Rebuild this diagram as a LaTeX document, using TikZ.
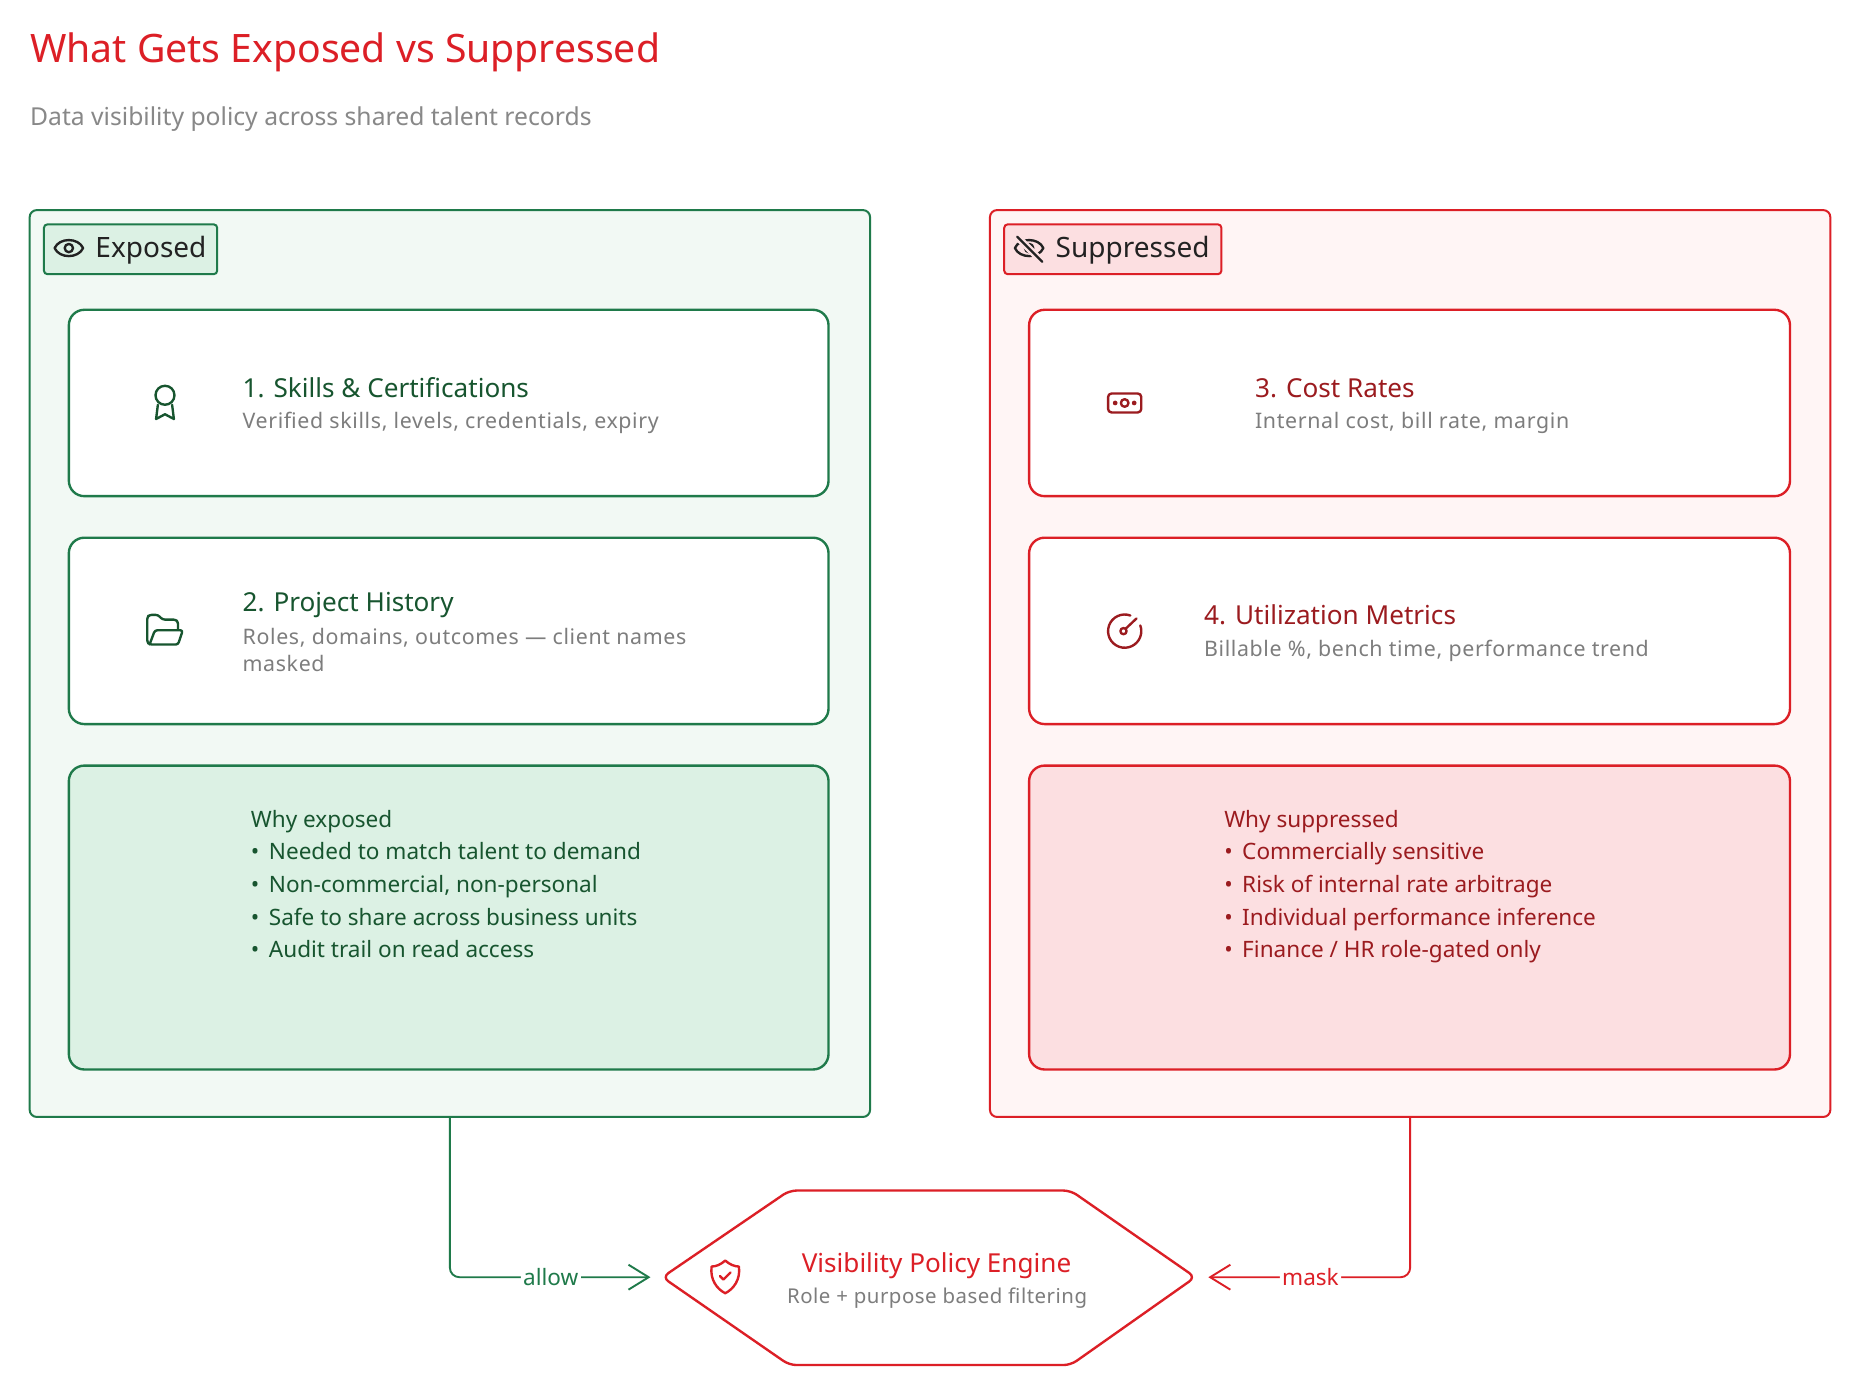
\documentclass[tikz,border=0pt]{standalone}
\usepackage{fontspec}
\setmainfont{Noto Sans}
\usetikzlibrary{arrows.meta,fit,calc}
\definecolor{redA}{HTML}{DC1F26}
\definecolor{redD}{HTML}{9B1B1F}
\definecolor{redF}{HTML}{FFF5F5}
\definecolor{redB}{HTML}{FCDFE1}
\definecolor{grnA}{HTML}{1F7A4A}
\definecolor{grnD}{HTML}{17552F}
\definecolor{grnF}{HTML}{F2F9F4}
\definecolor{grnB}{HTML}{DCF1E4}
\definecolor{grayT}{HTML}{7D7D7D}
\definecolor{grayS}{HTML}{888888}
\definecolor{inkT}{HTML}{222222}
\begin{document}
\begin{tikzpicture}[x=0.5pt,y=-0.5pt,
  txt/.style={inner sep=0pt, anchor=base west},
  outerbox/.style={draw, line width=0.85pt, rounded corners=3pt, inner sep=0pt},
  badge/.style={draw, line width=0.85pt, rounded corners=1.5pt, inner sep=0pt},
  card/.style={draw, line width=1pt, rounded corners=6.5pt, inner sep=0pt},
  icon/.style={line width=1pt, line cap=round, line join=round},
  ctitle/.style={txt, font=\fontsize{11pt}{13pt}\selectfont},
  cdesc/.style={txt, font=\fontsize{9pt}{11pt}\selectfont\addfontfeature{LetterSpace=3}, text=grayT},
  whyt/.style={txt, font=\fontsize{9.5pt}{12pt}\selectfont},
  conn/.style={line width=0.8pt, rounded corners=4pt, -{Straight Barb[length=8.5pt,width=10.5pt]}},
  lab/.style={fill=white, inner sep=1pt, font=\fontsize{9.5pt}{12pt}\selectfont}
]
\useasboundingbox (0,0) rectangle (1567,1176);
\fill[white] (0,0) rectangle (1567,1176);

% titles
\node[txt, text=redA, font=\fontsize{16.5pt}{20pt}\selectfont] (title) at (25,53) {What Gets Exposed vs Suppressed};
\node[txt, text=grayS, font=\fontsize{10.4pt}{12pt}\selectfont] (subtitle) at (25,106) {Data visibility policy across shared talent records};

% outer boxes
\node[outerbox, draw=grnA, fill=grnF, fit={(25,177) (733,941)}] (expbox) {};
\node[outerbox, draw=redA, fill=redF, fit={(834,177) (1542,941)}] (supbox) {};

% badges
\node[badge, draw=grnA, fill=grnB, fit={(37,189) (183,231)}] (expbadge) {};
\node[badge, draw=redA, fill=redB, fit={(846,189) (1029,231)}] (supbadge) {};
\node[txt, text=inkT, font=\fontsize{11.8pt}{13pt}\selectfont] (expbadget) at (80,217) {Exposed};
\node[txt, text=inkT, font=\fontsize{11.8pt}{13pt}\selectfont] (supbadget) at (889,217) {Suppressed};
% eye icon
\draw[icon, inkT] (46,209) .. controls (50,200) and (66,200) .. (70,209) .. controls (66,218) and (50,218) .. (46,209) -- cycle;
\draw[icon, inkT] (58,209) circle[radius=1.75pt];
% eye-off icon
\draw[icon, inkT] (855,209) .. controls (859,200) and (875,200) .. (879,209) .. controls (875,218) and (859,218) .. (855,209) -- cycle;
\draw[icon, inkT] (867,209) circle[radius=1.75pt];
\draw[line width=3pt, redB, line cap=round] (857,199.5) -- (878,220.5);
\draw[icon, inkT] (857,199.5) -- (878,220.5);

% cards left
\node[card, draw=grnA, fill=white, fit={(58,261) (698,418)}] (c1) {};
\node[card, draw=grnA, fill=white, fit={(58,453) (698,610)}] (c2) {};
\node[card, draw=grnA, fill=grnB, fit={(58,645) (698,901)}] (whyE) {};
% cards right
\node[card, draw=redA, fill=white, fit={(867,261) (1508,418)}] (c3) {};
\node[card, draw=redA, fill=white, fit={(867,453) (1508,610)}] (c4) {};
\node[card, draw=redA, fill=redB, fit={(867,645) (1508,901)}] (whyS) {};

% card texts
\node[ctitle, text=grnD] (c1t) at (204,335) {1. Skills \& Certifications};
\node[cdesc] (c1d) at (204,361) {Verified skills, levels, credentials, expiry};
\node[ctitle, text=grnD] (c2t) at (204,515) {2. Project History};
\node[cdesc] (c2d) at (204,543) {Roles, domains, outcomes — client names};
\node[cdesc] (c2d2) at (204,566) {masked};
\node[ctitle, text=redD] (c3t) at (1057,335) {3. Cost Rates};
\node[cdesc] (c3d) at (1057,361) {Internal cost, bill rate, margin};
\node[ctitle, text=redD] (c4t) at (1014,526) {4. Utilization Metrics};
\node[cdesc] (c4d) at (1014,553) {Billable \%, bench time, performance trend};

% why exposed
\node[whyt, text=grnD] (whyEt) at (211,697) {Why exposed};
\foreach \t [count=\i] in {Needed to match talent to demand, {Non-commercial, non-personal}, Safe to share across business units, Audit trail on read access}
  \node[whyt, text=grnD] (whyE\i) at (211,{697+27.5*\i}) {•\hspace{4pt}\t};
% why suppressed
\node[whyt, text=redD] (whySt) at (1031,697) {Why suppressed};
\foreach \t [count=\i] in {Commercially sensitive, Risk of internal rate arbitrage, Individual performance inference, Finance / HR role-gated only}
  \node[whyt, text=redD] (whyS\i) at (1031,{697+27.5*\i}) {•\hspace{4pt}\t};

% award icon
\draw[icon, grnD] (139,333) circle[radius=4pt];
\draw[icon, grnD] (133,341) -- (131.5,353) -- (139,349) -- (146.5,353) -- (145,341);
% folder-open icon
\draw[icon, grnD, rounded corners=1pt] (150,530.5) -- (150,524) -- (148,522) -- (137,522) -- (133,518) -- (126,518) -- (124,520) -- (124,541) -- (126,543) -- (150,543) -- (154,531) -- (130.5,531) -- (126,543);
% cash icon
\draw[icon, redD, rounded corners=1.5pt] (933.5,331.5) rectangle (961.5,347.5);
\draw[icon, redD] (947.5,339.5) circle[radius=1.6pt];
\fill[redD] (939.5,339.5) circle[radius=1pt] (955.5,339.5) circle[radius=1pt];
% gauge icon
\draw[icon, redD] ($(947.5,531.7)+(-70:14)$) arc[start angle=-70, end angle=-380, radius=14];
\draw[icon, redD] (946.5,531.7) circle[radius=1.3pt];
\draw[icon, redD] (948.6,529.4) -- (957.5,521);

% hexagon
\coordinate (hexL) at (558,1076);
\coordinate (hexR) at (1007,1076);
\draw[redA, line width=1pt, fill=white, rounded corners=3pt] (hexL) -- (665,1003) -- (902,1003) -- (hexR) -- (902,1150) -- (665,1150) -- cycle;
\node[inner sep=0pt, anchor=base, text=redA, font=\fontsize{11pt}{13pt}\selectfont] (hext) at (789,1072) {Visibility Policy Engine};
\node[inner sep=0pt, anchor=base, text=grayT, font=\fontsize{8.6pt}{10pt}\selectfont\addfontfeature{LetterSpace=2.5}] (hexs) at (789.5,1098) {Role + purpose based filtering};
% shield icon
\draw[icon, redA] (611,1062) .. controls (615,1065.5) and (619,1067) .. (622.5,1067) .. controls (624,1078) and (618,1086) .. (611,1089.5) .. controls (604,1086) and (598,1078) .. (599.5,1067) .. controls (603,1067) and (607,1065.5) .. (611,1062) -- cycle;
\draw[icon, redA] (606.5,1075) -- (609.5,1078) -- (615.5,1072);

% connectors
\draw[conn, grnA, shorten >=5pt] (expbox.south) |- node[lab, pos=0.7375, text=grnA] (allowl) {allow} (hexL);
\draw[conn, redA, shorten >=5.5pt] (supbox.south) |- node[lab, pos=0.732, text=redA] (maskl) {mask} (hexR);
\end{tikzpicture}
\end{document}
